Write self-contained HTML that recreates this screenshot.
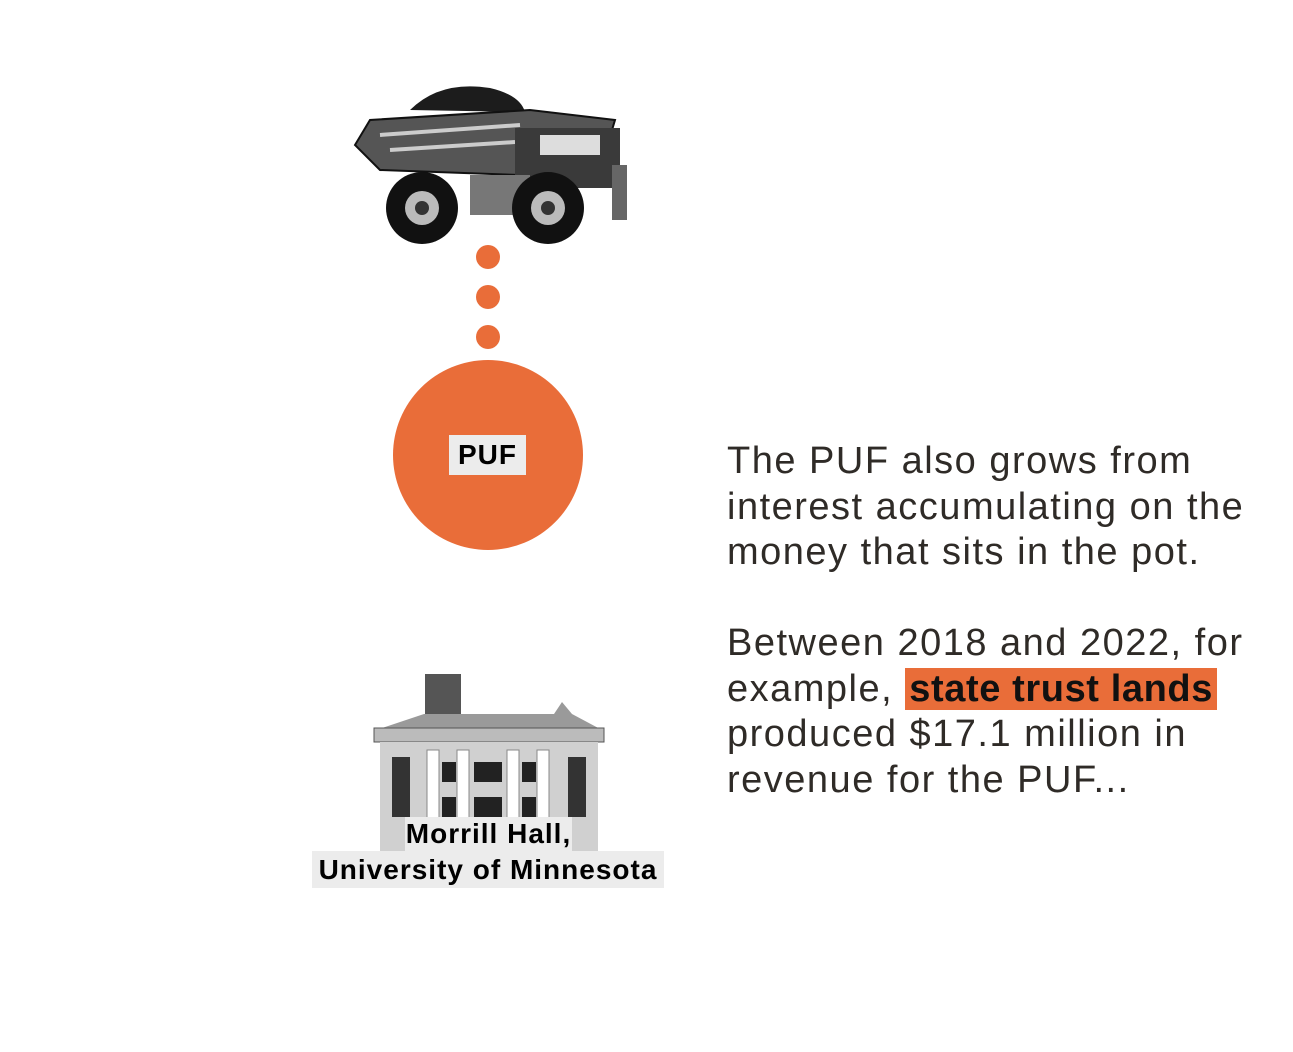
<!DOCTYPE html>
<html><head><meta charset="utf-8">
<style>
html,body{margin:0;padding:0;background:#fff;}
body{width:1293px;height:1052px;position:relative;overflow:hidden;font-family:"Liberation Sans",sans-serif;}
.abs{position:absolute;}
.para{position:absolute;left:727px;font-size:38px;line-height:45.5px;color:#2f2b27;letter-spacing:1.5px;white-space:nowrap;}
.hl{background:#e96d39;color:#111;font-weight:bold;padding:0 4px;letter-spacing:0.6px;}
.lbl{position:absolute;background:#ececec;color:#000;font-weight:bold;font-size:28px;text-align:center;letter-spacing:1px;white-space:nowrap;}
</style></head>
<body>
<svg class="abs" style="left:350px;top:80px" width="285" height="170" viewBox="0 0 285 170">
  <path d="M60 30 Q90 0 140 8 Q170 15 175 32 Z" fill="#1c1c1c"/>
  <path d="M5 65 L20 40 L180 30 L265 40 L262 50 L180 52 L170 95 L30 90 Z" fill="#555" stroke="#111" stroke-width="2"/>
  <path d="M30 55 L170 45 M40 70 L165 62" stroke="#ccc" stroke-width="4"/>
  <rect x="165" y="48" width="105" height="60" fill="#3a3a3a"/>
  <rect x="190" y="55" width="60" height="20" fill="#ddd"/>
  <rect x="120" y="95" width="60" height="40" fill="#777"/>
  <circle cx="72" cy="128" r="36" fill="#111"/><circle cx="72" cy="128" r="17" fill="#bbb"/><circle cx="72" cy="128" r="7" fill="#333"/>
  <circle cx="198" cy="128" r="36" fill="#111"/><circle cx="198" cy="128" r="17" fill="#bbb"/><circle cx="198" cy="128" r="7" fill="#333"/>
  <rect x="262" y="85" width="15" height="55" fill="#666"/>
</svg>
<div class="abs" style="left:476px;top:245px;width:24px;height:24px;border-radius:50%;background:#e96d39"></div>
<div class="abs" style="left:476px;top:285px;width:24px;height:24px;border-radius:50%;background:#e96d39"></div>
<div class="abs" style="left:476px;top:325px;width:24px;height:24px;border-radius:50%;background:#e96d39"></div>
<div class="abs" style="left:393px;top:360px;width:190px;height:190px;border-radius:50%;background:#e96d39"></div>
<div class="lbl" style="left:449px;top:435px;width:77px;height:40px;line-height:40px;">PUF</div>

<svg class="abs" style="left:372px;top:672px" width="234" height="180" viewBox="0 0 234 180">
  <rect x="53" y="2" width="36" height="40" fill="#555"/>
  <path d="M52 42 L182 42 L190 30 L200 42 L230 58 L4 58 Z" fill="#9a9a9a"/>
  <rect x="2" y="56" width="230" height="14" fill="#bbb" stroke="#555"/>
  <rect x="8" y="70" width="218" height="110" fill="#d0d0d0"/>
  <rect x="20" y="85" width="18" height="60" fill="#333"/><rect x="196" y="85" width="18" height="60" fill="#333"/>
  <g fill="#fff" stroke="#888"><rect x="55" y="78" width="12" height="100"/><rect x="85" y="78" width="12" height="100"/><rect x="135" y="78" width="12" height="100"/><rect x="165" y="78" width="12" height="100"/></g>
  <g fill="#222"><rect x="70" y="90" width="14" height="20"/><rect x="102" y="90" width="28" height="20"/><rect x="150" y="90" width="14" height="20"/><rect x="70" y="125" width="14" height="20"/><rect x="102" y="125" width="28" height="20"/><rect x="150" y="125" width="14" height="20"/></g>
</svg>
<div class="lbl" style="left:405px;top:817px;width:167px;height:34px;line-height:34px;">Morrill Hall,</div>
<div class="lbl" style="left:312px;top:851px;width:352px;height:37px;line-height:37px;">University of Minnesota</div>

<div class="para" style="top:439px;">The PUF also grows from<br>interest accumulating on the<br>money that sits in the pot.</div>
<div class="para" style="top:621px;">Between 2018 and 2022, for<br>example, <span class="hl">state trust lands</span><br>produced $17.1 million in<br>revenue for the PUF...</div>
</body></html>
